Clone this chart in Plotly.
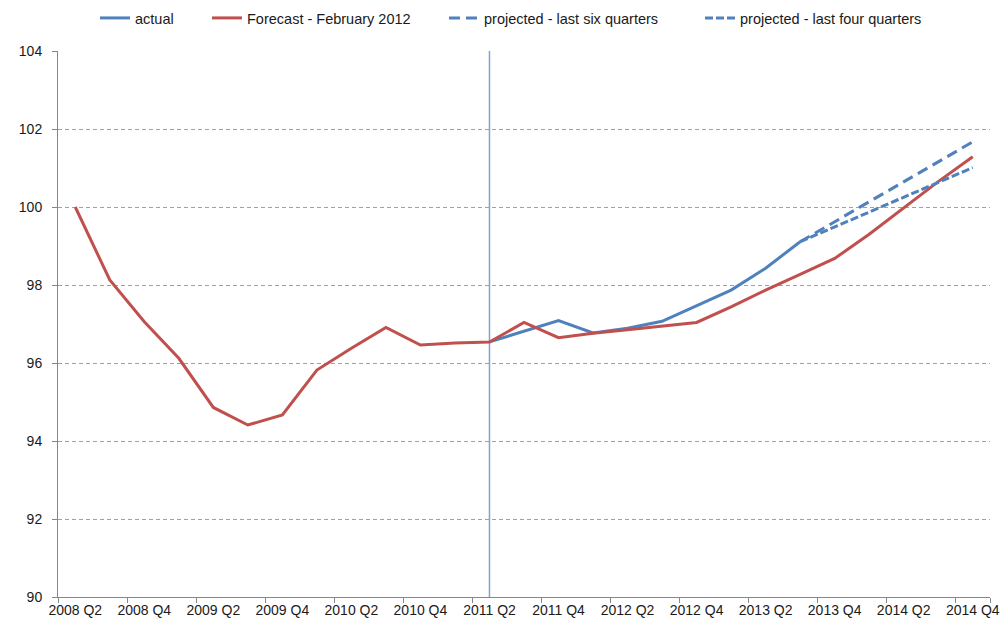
import plotly.graph_objects as go

quarters = [
    "2008 Q2", "2008 Q3", "2008 Q4", "2009 Q1", "2009 Q2", "2009 Q3", "2009 Q4",
    "2010 Q1", "2010 Q2", "2010 Q3", "2010 Q4", "2011 Q1", "2011 Q2", "2011 Q3",
    "2011 Q4", "2012 Q1", "2012 Q2", "2012 Q3", "2012 Q4", "2013 Q1", "2013 Q2",
    "2013 Q3", "2013 Q4", "2014 Q1", "2014 Q2", "2014 Q3", "2014 Q4",
]
tick_labels = quarters[::2]

forecast = [100.0, 98.13, 97.06, 96.12, 94.86, 94.41, 94.67, 95.82, 96.38, 96.91,
            96.46, 96.51, 96.54, 97.04, 96.65, 96.76, 96.85, 96.95, 97.04, 97.44,
            97.87, 98.27, 98.68, 99.30, 99.98, 100.65, 101.29]
actual = [None] * 12 + [96.54, 96.82, 97.09, 96.77, 96.89, 97.07, 97.47, 97.87,
                        98.43, 99.11]
proj_six = [None] * 21 + [99.11, 99.62, 100.13, 100.65, 101.16, 101.67]
proj_four = [None] * 21 + [99.11, 99.49, 99.87, 100.25, 100.63, 101.01]

marker_quarter = "2011 Q2"
y_min, y_max = 90, 104

BLUE = "#4F81BD"
RED = "#C0504D"
FONT = "Liberation Sans"
TXT = "#1a1a1a"

W, H = 1001, 626
ML, MR, MT, MB = 58, 11, 51, 29
PW = W - ML - MR
PH = H - MT - MB

fig = go.Figure()

fig.add_trace(go.Scatter(x=[marker_quarter, marker_quarter], y=[y_min, y_max],
                         mode="lines", line=dict(color="#7FA3D3", width=1.5),
                         showlegend=False, hoverinfo="skip"))
fig.add_trace(go.Scatter(x=quarters, y=actual, name="actual", mode="lines",
                         line=dict(color=BLUE, width=3), legend="legend"))
fig.add_trace(go.Scatter(x=quarters, y=forecast, name="Forecast - February 2012",
                         mode="lines", line=dict(color=RED, width=3), legend="legend2"))
fig.add_trace(go.Scatter(x=quarters, y=proj_six, name="projected - last six quarters",
                         mode="lines", line=dict(color=BLUE, width=3, dash="11px,6px"),
                         legend="legend3"))
fig.add_trace(go.Scatter(x=quarters, y=proj_four, name="projected - last four quarters",
                         mode="lines", line=dict(color=BLUE, width=3, dash="8px,3px"),
                         legend="legend4"))


def leg(text_start_px):
    return dict(orientation="h", x=(text_start_px - 40 - ML) / PW, xanchor="left",
                y=1 + (MT - 18) / PH, yanchor="middle",
                font=dict(family=FONT, size=14.5, color=TXT),
                itemwidth=30, bgcolor="rgba(0,0,0,0)", borderwidth=0)


fig.update_layout(
    width=W, height=H,
    margin=dict(l=ML, r=MR, t=MT, b=MB, autoexpand=False),
    paper_bgcolor="white", plot_bgcolor="white",
    font=dict(family=FONT, size=14, color=TXT),
    showlegend=True,
    legend=leg(135), legend2=leg(247), legend3=leg(484), legend4=leg(740),
    xaxis=dict(type="category", categoryorder="array", categoryarray=quarters,
               tickmode="array", tickvals=tick_labels, ticktext=tick_labels,
               tickangle=0, automargin=False,
               showgrid=False, showline=True, linecolor="#868686", linewidth=1,
               ticks="outside", ticklen=5, tickcolor="#868686",
               tickson="boundaries", range=[-0.5, len(quarters) - 0.5],
               tickfont=dict(family=FONT, size=14, color=TXT)),
    yaxis=dict(range=[y_min, y_max], dtick=2, tick0=90, automargin=False,
               showgrid=True, gridcolor="#A0A0A0", griddash="4px,3px", gridwidth=1,
               showline=True, linecolor="#868686", linewidth=1,
               ticks="outside", ticklen=5, tickcolor="#868686",
               ticklabelstandoff=7,
               zeroline=False, tickfont=dict(family=FONT, size=14, color=TXT)),
)

fig.write_html("out.html",
               config={"displayModeBar": False},
               post_script="document.body.style.margin='0';"
                           "document.body.style.overflow='hidden';")
